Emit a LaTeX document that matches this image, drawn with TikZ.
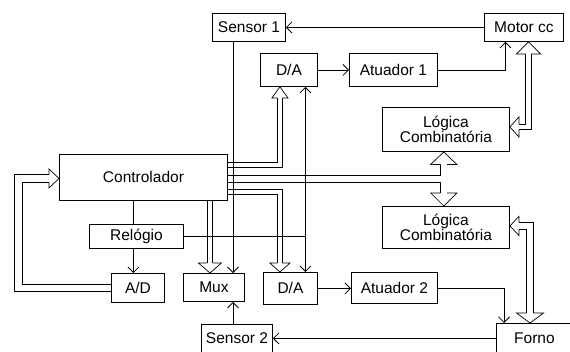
\documentclass[tikz,border=0pt]{standalone}
\usepackage{fontspec}
\setmainfont{Liberation Sans}
\usetikzlibrary{arrows.meta,calc}
\begin{document}
\begin{tikzpicture}[x=1pt,y=-1pt,
  box/.style={draw, line width=0.9pt, inner sep=0pt, align=center, anchor=north west,
    font=\fontsize{15.5}{15}\selectfont},
  ln/.style={line width=0.8pt},
  arr/.style={line width=0.8pt, -{Straight Barb[length=5.5pt,width=11pt,line width=0.8pt]}},
  bus/.style={draw=black, line width=0.7pt, double=white, double distance=#1},
  pics/hh/.style n args={3}{code={\filldraw[fill=white,draw=black,line width=0.7pt,miter limit=10] (-#1,#3) -- (-#1,#2) -- (0,0) -- (-#1,-#2) -- (-#1,-#3);}}
]
\fill[white] (0,0) rectangle (570,351);
\useasboundingbox (0,0) rectangle (570,351);

% boxes
\node[box, minimum width=73pt, minimum height=28pt] (sensor1) at (212,13) {Sensor 1};
\node[box, minimum width=79pt, minimum height=28pt] (motor) at (484,13) {Motor cc};
\node[box, minimum width=57pt, minimum height=33pt] (da1) at (260,53) {D/A};
\node[box, minimum width=88pt, minimum height=33pt] (at1) at (349,53) {Atuador 1};
\node[box, minimum width=127pt, minimum height=44pt] (log1) at (382,107) {Lógica\\Combinatória};
\node[box, minimum width=168pt, minimum height=46pt] (ctrl) at (59,154) {Controlador};
\node[box, minimum width=94pt, minimum height=24pt] (relog) at (89,224) {Relógio};
\node[box, minimum width=53pt, minimum height=29pt] (ad) at (111,273) {A/D};
\node[box, minimum width=61pt, minimum height=28pt] (mux) at (183,273) {Mux};
\node[box, minimum width=54pt, minimum height=32pt] (da2) at (263,272) {D/A};
\node[box, minimum width=86pt, minimum height=31pt] (at2) at (351,272) {Atuador 2};
\node[box, minimum width=127pt, minimum height=42pt] (log2) at (382,206) {Lógica\\Combinatória};
\node[box, minimum width=71pt, minimum height=28pt] (sensor2) at (201,324) {Sensor 2};
\node[box, minimum width=76pt, minimum height=30pt] (forno) at (496,323) {Forno};

% hollow (bus) arrows
\draw[bus=4.3pt] ($(ctrl.east)+(0,-12.2)$) -| ($(da1.south)+(-9,11)$);
\pic[rotate=90] at ($(da1.south)+(-9,0)$) {hh={11}{8}{2.5}};
\draw[bus=4.3pt] ($(ctrl.east)+(0,14.8)$) -| ($(da2.north)+(-10.5,-9)$);
\pic[rotate=-90] at ($(da2.north)+(-10.5,0)$) {hh={9}{10}{2.5}};
\draw[bus=4.9pt] ($(ctrl.south)+(66.5,0)$) -- ($(mux.north)+(-4,-10)$);
\pic[rotate=-90] at ($(mux.north)+(-4,0)$) {hh={10}{11.5}{2.8}};
\draw[bus=6pt] ($(log1.south)+(-2.2,12.5)$) -- ($(log2.north)+(-2.2,-13)$);
\pic[rotate=90] at ($(log1.south)+(-2.2,0)$) {hh={12.5}{13}{3.35}};
\pic[rotate=-90] at ($(log2.north)+(-2.2,0)$) {hh={13}{13}{3.35}};
\draw[bus=4.7pt] ($(motor.south)+(4.5,12)$) |- ($(log1.east)+(9,-2.5)$);
\pic[rotate=90] at ($(motor.south)+(4.5,0)$) {hh={12}{12}{2.7}};
\pic[rotate=180] at ($(log1.east)+(0,-2.5)$) {hh={9}{10}{2.7}};
\draw[bus=5.8pt] ($(log2.east)+(9,-1.5)$) -| ($(forno.north west)+(34,-10)$);
\pic[rotate=180] at ($(log2.east)+(0,-1.5)$) {hh={9}{9.5}{3.25}};
\pic[rotate=-90] at ($(forno.north west)+(34,0)$) {hh={10}{13.5}{3.25}};
\draw[bus=6.8pt] (ad.west) -| ($(ctrl.west)+(-40.5,1)$) -- ($(ctrl.west)+(-10,1)$);
\pic at ($(ctrl.west)+(0,1)$) {hh={10}{9.5}{3.75}};

% wires from controller into the vertical bus
\coordinate (vl) at ($(log1.south)+(-5.55,0)$);
\draw[white, line width=1.2pt] ($(vl)+(0,24.1)$) -- ($(vl)+(0,29.9)$);
\draw[ln] ($(ctrl.east)+(0,-2.5)$) coordinate (t1) -- (t1 -| vl);
\draw[ln] ($(ctrl.east)+(0,4.5)$) coordinate (t2) -- (t2 -| vl);

% thin connectors
\draw[arr] (motor.west) -- (sensor1.east);
\draw[arr] (da1.east) -- (at1.west);
\draw[arr] (at1.east) -| ($(motor.south)+(-18.5,0)$);
\draw[arr] ($(sensor1.south west)+(21,0)$) coordinate (s1) -- (s1 |- mux.north);
\draw[ln] ($(ctrl.south)+(-10,0)$) -- ($(relog.north)+(-3,0)$);
\draw[arr] ($(relog.south)+(-3,0)$) -- ($(ad.north)+(-4.5,0)$);
\coordinate (ck) at ($(da1.south)+(16.5,0)$);
\draw[ln] (relog.east) -- (relog.east -| ck);
\draw[arr] (relog.east -| ck) -- (ck);
\draw[arr] (relog.east -| ck) -- (ck |- da2.north);
\draw[arr] (da2.east) -- (da2.east -| at2.west);
\draw[arr] (at2.east) -| ($(forno.north west)+(8,0)$);
\draw[arr] (forno.west) -- (forno.west -| sensor2.east);
\draw[arr] ($(sensor2.north west)+(32,0)$) coordinate (s2) -- (s2 |- mux.south);
\end{tikzpicture}
\end{document}
